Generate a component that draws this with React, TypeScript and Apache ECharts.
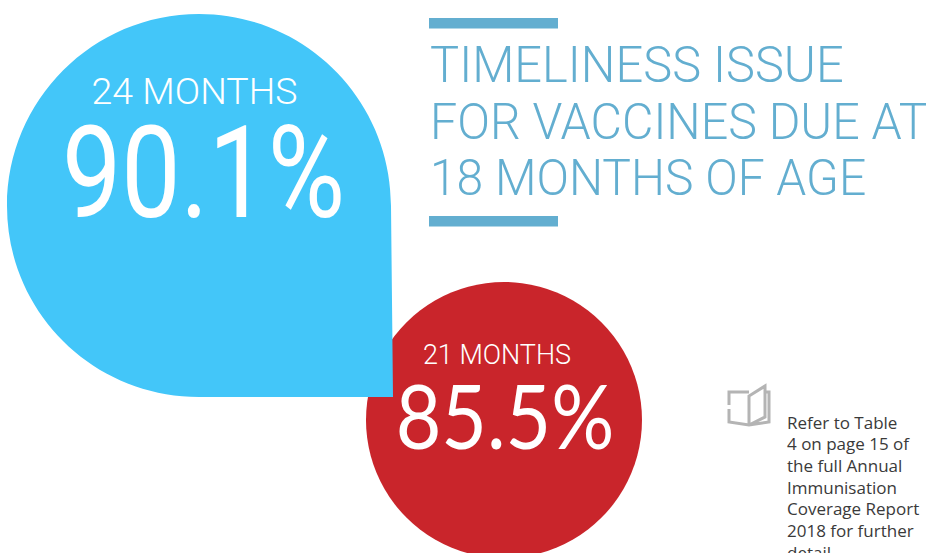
import React, { useEffect, useRef } from "react";
import * as echarts from "echarts";

const titleLines = ["TIMELINESS ISSUE", "FOR VACCINES DUE AT", "18 MONTHS OF AGE"];
const bigLabel = "24 MONTHS";
const bigValue = "90.1%";
const smallLabel = "21 MONTHS";
const smallValue = "85.5%";
const noteLines = ["Refer to Table", "4 on page 15 of", "the full Annual", "Immunisation", "Coverage Report", "2018 for further", "detail"];

const FONT = '"Open Sans", "Noto Sans", sans-serif';
const ROBOTO = 'Roboto, "Open Sans", sans-serif';
const LATO = 'Lato, "Open Sans", sans-serif';
const titleFit = [0.976, 0.968, 0.96];

echarts.graphic.registerShape("drop", echarts.graphic.extendPath("M199 14 C305 14 391 100 391 206 L393 397 L199 397 C93 397 7 312 7 206 C7 100 93 14 199 14 Z", {}));
echarts.graphic.registerShape("book", echarts.graphic.extendPath("M729 405 L729 392 L749 392 M729 409 L729 422 L749 425 L769 422 L769 392 L766 392 M749 425 L749 396 L765 386 L765 417 L749 425", {}));

export default function App() {
  const ref = useRef<HTMLDivElement>(null);
  useEffect(() => {
    const chart = echarts.init(ref.current!, null, { renderer: "svg" });
    chart.setOption({
      animation: false,
      backgroundColor: "#fff",
      graphic: [
        { type: "circle", shape: { cx: 504, cy: 420, r: 138 }, style: { fill: "#c9252b" } },
        { type: "drop", style: { fill: "#43c6f9" } },
        { type: "rect", shape: { x: 429, y: 18, width: 129, height: 10.5 }, style: { fill: "#63aed0" } },
        { type: "rect", shape: { x: 429, y: 216, width: 129, height: 10.5 }, style: { fill: "#63aed0" } },
        ...titleLines.map((t, i) => ({
          type: "text", x: 430, y: 65 + i * 56.5, scaleX: titleFit[i],
          style: { text: t, fill: "#63aed0", font: `300 50px ${ROBOTO}`, textVerticalAlign: "middle" },
        })),
        { type: "text", x: 194.5, y: 91, style: { text: bigLabel, fill: "#fff", font: `300 37.5px ${ROBOTO}`, textAlign: "center", textVerticalAlign: "middle" } },
        { type: "text", x: 203.5, y: 173, scaleX: 0.825, style: { text: bigValue, fill: "#fff", font: `400 128px ${ROBOTO}`, textAlign: "center", textVerticalAlign: "middle" } },
        { type: "text", x: 497, y: 355, style: { text: smallLabel, fill: "#fff", font: `300 27px ${ROBOTO}`, textAlign: "center", textVerticalAlign: "middle" } },
        { type: "text", x: 505, y: 414, scaleX: 0.875, style: { text: smallValue, fill: "#fff", font: `400 90px ${LATO}`, textAlign: "center", textVerticalAlign: "middle" } },
        { type: "book", style: { fill: "none", stroke: "#b4b4b4", lineWidth: 3 } },
        ...noteLines.map((t, i) => ({
          type: "text", x: 787, y: 422 + i * 21.7,
          style: { text: t, fill: "#3a3a3a", font: `17px ${FONT}`, textVerticalAlign: "middle" },
        })),
      ],
    });
    return () => chart.dispose();
  }, []);
  return <div ref={ref} style={{ position: "absolute", left: 0, top: 0, width: 926, height: 553 }} />;
}
